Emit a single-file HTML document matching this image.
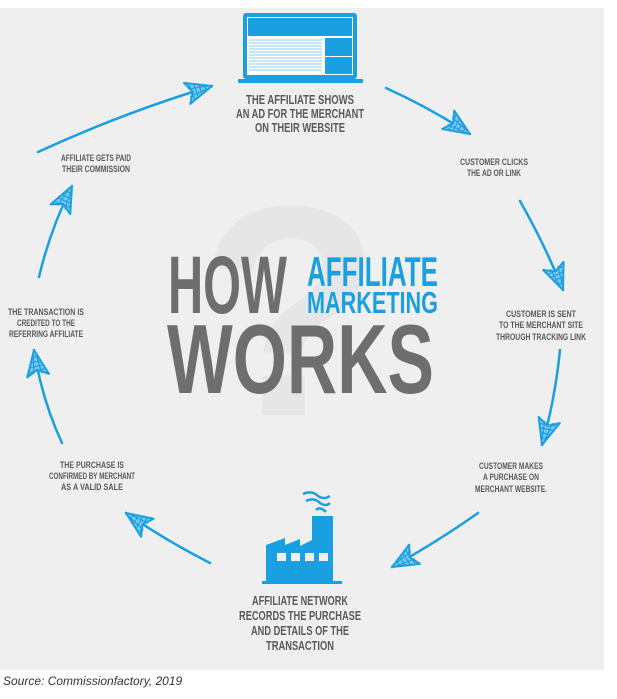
<!DOCTYPE html>
<html><head><meta charset="utf-8"><style>
body{margin:0;width:617px;height:699px;background:#fff;overflow:hidden;font-family:"Liberation Sans",sans-serif}
svg{position:absolute;left:0;top:0}
.src{position:absolute;left:3px;top:674px;font-size:12px;font-style:italic;color:#333}
</style></head><body>
<svg width="617" height="699" viewBox="0 0 617 699" xmlns="http://www.w3.org/2000/svg">
<defs>
<marker id="ah" viewBox="0 0 30 24" refX="28" refY="12" markerWidth="30" markerHeight="24" markerUnits="userSpaceOnUse" orient="auto">
<path d="M28 12 L2 1 L8 12 L2 23 Z" fill="#7cc6ee" stroke="#1a9fe0" stroke-width="2" stroke-linejoin="round"/>
<path d="M6 4 L8 20 M11 5 L12 19 M16 7 L16 17 M21 9 L21 15 M4 8 L26 11 M4 16 L26 13" stroke="#1a9fe0" stroke-width="1.2" fill="none"/>
</marker>
</defs>
<rect x="0" y="8" width="604" height="662" fill="#efefef"/>
<text x="290" y="415" font-family="Liberation Sans" font-weight="bold" font-size="300" fill="#e6e6e6" text-anchor="middle">?</text>
<rect x="243" y="13" width="114" height="66" rx="3" fill="#1a9fe0"/>
<rect x="247" y="17" width="106" height="58" fill="#fff"/>
<rect x="248" y="18" width="104" height="18" fill="#1a9fe0"/>
<rect x="325" y="38" width="27" height="18" fill="#1a9fe0"/>
<rect x="325" y="57" width="27" height="17" fill="#1a9fe0"/>
<g stroke="#8ccdf0" stroke-width="1">
<line x1="249" y1="40" x2="322" y2="40"/><line x1="249" y1="43" x2="322" y2="43"/><line x1="249" y1="46" x2="322" y2="46"/><line x1="249" y1="49" x2="322" y2="49"/><line x1="249" y1="52" x2="322" y2="52"/><line x1="249" y1="55" x2="322" y2="55"/><line x1="249" y1="58" x2="322" y2="58"/><line x1="249" y1="61" x2="322" y2="61"/><line x1="249" y1="64" x2="322" y2="64"/><line x1="249" y1="67" x2="322" y2="67"/><line x1="249" y1="70" x2="322" y2="70"/>
</g>
<rect x="238" y="79" width="125" height="4" rx="1" fill="#1a9fe0"/>
<g fill="#1a9fe0">
<path d="M266 583 L266 545 L285 538 L285 545 L300 539 L300 546 L312 540 L312 516 L333 516 L333 583 Z"/>
<rect x="262" y="581" width="80" height="3"/>
</g>
<g fill="#efefef"><rect x="277" y="553" width="9" height="8"/><rect x="291" y="553" width="9" height="8"/><rect x="305" y="553" width="9" height="8"/><rect x="319" y="553" width="9" height="8"/></g>
<path d="M303 494 Q312 490 318 496 Q324 500 330 496 M306 501 Q314 497 320 503 Q326 507 330 503 M316 510 Q320 506 326 512" stroke="#1a9fe0" stroke-width="2.5" fill="none"/>
<g stroke="#1a9fe0" stroke-width="2.5" fill="none" marker-end="url(#ah)" stroke-linecap="round">
<path d="M38 152 Q125 112 212 86"/>
<path d="M386 88 Q430 108 470 134"/>
<path d="M520 201 Q545 245 563 290"/>
<path d="M560 350 Q555 400 542 445"/>
<path d="M478 513 Q440 540 392 567"/>
<path d="M210 563 Q165 540 126 513"/>
<path d="M62 443 Q42 400 34 350"/>
<path d="M39 277 Q50 230 72 186"/>
</g>
<g font-family="Liberation Sans" font-weight="bold" fill="#6e6e6e">
<text x="168" y="313" font-size="82" textLength="119" lengthAdjust="spacingAndGlyphs">HOW</text>
<text x="167" y="393" font-size="98" textLength="267" lengthAdjust="spacingAndGlyphs">WORKS</text>
</g>
<g font-family="Liberation Sans" font-weight="bold" fill="#1a9fe0">
<text x="307" y="286" font-size="42" textLength="131" lengthAdjust="spacingAndGlyphs">AFFILIATE</text>
<text x="307" y="313" font-size="31" textLength="131" lengthAdjust="spacingAndGlyphs">MARKETING</text>
</g>
<g font-family="Liberation Sans" font-weight="bold" fill="#5a5a5a" text-anchor="middle">
<g font-size="13">
<text x="300" y="104" textLength="108" lengthAdjust="spacingAndGlyphs">THE AFFILIATE SHOWS</text>
<text x="300" y="118" textLength="128" lengthAdjust="spacingAndGlyphs">AN AD FOR THE MERCHANT</text>
<text x="300" y="132" textLength="90" lengthAdjust="spacingAndGlyphs">ON THEIR WEBSITE</text>
<text x="300" y="605" textLength="96" lengthAdjust="spacingAndGlyphs">AFFILIATE NETWORK</text>
<text x="300" y="620" textLength="122" lengthAdjust="spacingAndGlyphs">RECORDS THE PURCHASE</text>
<text x="300" y="635" textLength="98" lengthAdjust="spacingAndGlyphs">AND DETAILS OF THE</text>
<text x="300" y="650" textLength="68" lengthAdjust="spacingAndGlyphs">TRANSACTION</text>
</g>
<g font-size="9">
<text x="494" y="165" textLength="68" lengthAdjust="spacingAndGlyphs">CUSTOMER CLICKS</text>
<text x="494" y="176" textLength="54" lengthAdjust="spacingAndGlyphs">THE AD OR LINK</text>
<text x="541" y="317" textLength="70" lengthAdjust="spacingAndGlyphs">CUSTOMER IS SENT</text>
<text x="541" y="328" textLength="84" lengthAdjust="spacingAndGlyphs">TO THE MERCHANT SITE</text>
<text x="541" y="340" textLength="90" lengthAdjust="spacingAndGlyphs">THROUGH TRACKING LINK</text>
<text x="511" y="469" textLength="64" lengthAdjust="spacingAndGlyphs">CUSTOMER MAKES</text>
<text x="511" y="480" textLength="56" lengthAdjust="spacingAndGlyphs">A PURCHASE ON</text>
<text x="511" y="492" textLength="72" lengthAdjust="spacingAndGlyphs">MERCHANT WEBSITE.</text>
<text x="96" y="161" textLength="70" lengthAdjust="spacingAndGlyphs">AFFILIATE GETS PAID</text>
<text x="96" y="172" textLength="68" lengthAdjust="spacingAndGlyphs">THEIR COMMISSION</text>
<text x="46" y="315" textLength="76" lengthAdjust="spacingAndGlyphs">THE TRANSACTION IS</text>
<text x="46" y="326" textLength="58" lengthAdjust="spacingAndGlyphs">CREDITED TO THE</text>
<text x="46" y="337" textLength="74" lengthAdjust="spacingAndGlyphs">REFERRING AFFILIATE</text>
<text x="92" y="468" textLength="64" lengthAdjust="spacingAndGlyphs">THE PURCHASE IS</text>
<text x="92" y="479" textLength="86" lengthAdjust="spacingAndGlyphs">CONFIRMED BY MERCHANT</text>
<text x="92" y="490" textLength="62" lengthAdjust="spacingAndGlyphs">AS A VALID SALE</text>
</g>
</g>
</svg>
<div class="src">Source: Commissionfactory, 2019</div>
</body></html>
